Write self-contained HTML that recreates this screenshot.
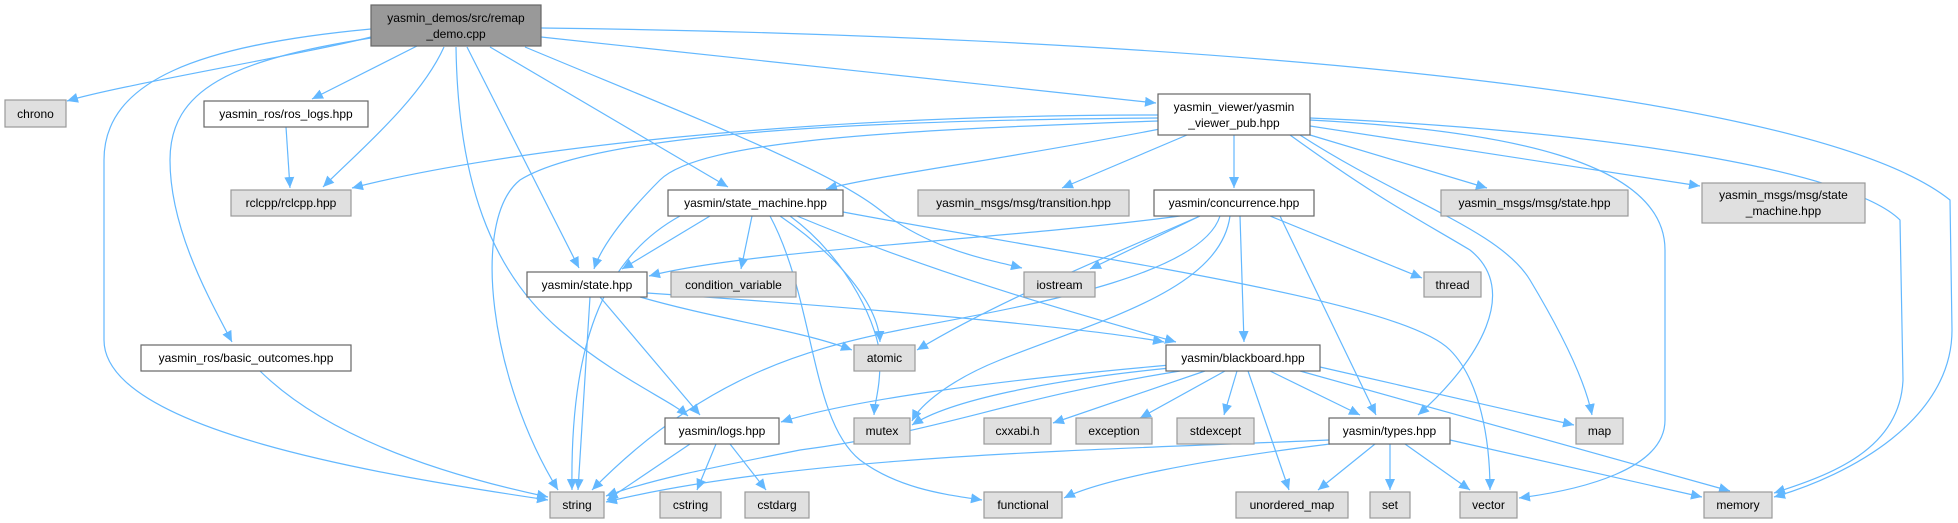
<!DOCTYPE html>
<html><head><meta charset="utf-8"><style>
html,body{margin:0;padding:0;background:#fff}
svg{display:block}
text{font-family:"Liberation Sans",sans-serif;font-size:12px;fill:#000;text-anchor:middle}
.w{fill:#fff;stroke:#666;stroke-width:1.2}
.g{fill:#e0e0e0;stroke:#999;stroke-width:1.2}
.m{fill:#999;stroke:#666;stroke-width:1.2}
path.e{fill:none;stroke:#63b8ff;stroke-width:1.2;marker-end:url(#a)}
</style></head><body>
<svg width="1958" height="523" viewBox="0 0 1958 523" xmlns="http://www.w3.org/2000/svg">
<defs><marker id="a" markerUnits="userSpaceOnUse" markerWidth="12" markerHeight="10" refX="11" refY="5" orient="auto"><path d="M0,0 L11,5 L0,10 z" fill="#63b8ff"/></marker></defs>
<g>
<path class="e" d="M371,37 C300,55 120,85 67,101"/>
<path class="e" d="M417,46 L312,99"/>
<path class="e" d="M444,47 C420,100 360,150 323,187"/>
<path class="e" d="M371,29 C200,45 104,80 104,160 L104,340 C104,430 380,475 548,500"/>
<path class="e" d="M371,38 C230,60 170,90 170,160 C170,230 210,300 232,342"/>
<path class="e" d="M456,47 C458,180 490,270 560,330 C620,380 670,400 688,416"/>
<path class="e" d="M467,47 L579,268"/>
<path class="e" d="M490,47 L728,187"/>
<path class="e" d="M525,47 C700,120 830,170 880,210 C930,250 990,260 1022,268"/>
<path class="e" d="M541,37 L1156,103"/>
<path class="e" d="M541,28 C1100,35 1800,80 1950,200 L1952,330 C1952,420 1850,475 1774,497"/>
<path class="e" d="M1158,115 C800,115 500,150 352,188"/>
<path class="e" d="M1158,118 C900,120 600,130 520,180 C470,220 490,380 558,490"/>
<path class="e" d="M1158,121 C900,130 700,140 660,180 C620,220 600,250 594,269"/>
<path class="e" d="M1160,129 C1000,160 880,175 826,189"/>
<path class="e" d="M1187,135 L1062,188"/>
<path class="e" d="M1234,135 L1234,188"/>
<path class="e" d="M1310,135 L1487,188"/>
<path class="e" d="M1310,126 L1700,186"/>
<path class="e" d="M1290,135 C1380,200 1420,220 1470,250 C1520,290 1480,360 1418,415"/>
<path class="e" d="M1300,135 C1400,200 1500,230 1530,280 C1560,330 1585,380 1592,415"/>
<path class="e" d="M1310,120 C1500,130 1665,160 1665,250 L1665,420 C1665,470 1580,490 1519,498"/>
<path class="e" d="M1310,118 C1600,130 1850,170 1900,220 L1903,380 C1900,450 1830,475 1774,493"/>
<path class="e" d="M710,216 L622,269"/>
<path class="e" d="M752,216 L741,269"/>
<path class="e" d="M680,216 C600,260 570,350 572,490"/>
<path class="e" d="M780,216 C830,250 878,300 880,342"/>
<path class="e" d="M790,216 C850,260 880,330 880,360 C880,390 875,400 874,415"/>
<path class="e" d="M770,216 C815,300 810,420 860,460 C900,490 950,495 982,500"/>
<path class="e" d="M797,216 C950,280 1100,320 1176,342"/>
<path class="e" d="M843,212 C1100,260 1400,300 1450,350 C1480,380 1490,440 1490,490"/>
<path class="e" d="M590,297 L578,490"/>
<path class="e" d="M600,297 L700,415"/>
<path class="e" d="M640,297 C720,320 800,330 852,350"/>
<path class="e" d="M647,293 C900,310 1100,330 1164,342"/>
<path class="e" d="M1180,216 C1000,240 750,250 649,276"/>
<path class="e" d="M1200,216 L1090,269"/>
<path class="e" d="M1270,216 L1422,278"/>
<path class="e" d="M1200,216 C1100,260 1000,300 917,350"/>
<path class="e" d="M1220,216 C1200,280 1000,310 900,330 C800,350 700,380 592,490"/>
<path class="e" d="M1230,216 C1220,290 1100,320 1000,360 C950,380 920,405 912,421"/>
<path class="e" d="M1240,216 L1244,342"/>
<path class="e" d="M1280,216 L1376,415"/>
<path class="e" d="M1170,365 C1000,380 850,400 781,422"/>
<path class="e" d="M1170,368 C1050,380 950,400 912,425"/>
<path class="e" d="M1205,371 L1053,423"/>
<path class="e" d="M1225,371 L1140,418"/>
<path class="e" d="M1237,371 L1224,415"/>
<path class="e" d="M1270,371 L1360,415"/>
<path class="e" d="M1320,367 L1574,425"/>
<path class="e" d="M1300,371 L1730,491"/>
<path class="e" d="M1248,371 L1289,490"/>
<path class="e" d="M1180,371 C1000,400 950,430 800,450 C700,470 650,480 606,496"/>
<path class="e" d="M690,444 L607,500"/>
<path class="e" d="M716,444 L697,490"/>
<path class="e" d="M730,444 L766,490"/>
<path class="e" d="M1329,440 C1100,450 800,455 606,502"/>
<path class="e" d="M1330,444 C1200,460 1100,480 1064,498"/>
<path class="e" d="M1375,444 L1318,490"/>
<path class="e" d="M1390,444 L1390,490"/>
<path class="e" d="M1405,444 L1470,490"/>
<path class="e" d="M1450,440 L1702,497"/>
<path class="e" d="M260,371 C320,430 420,470 548,497"/>
<path class="e" d="M286,127 L290,188"/>
</g>
<rect class="m" x="371" y="5" width="170" height="41"/><text x="456" y="22">yasmin_demos/src/remap</text><text x="456" y="38">_demo.cpp</text>
<rect class="g" x="5" y="100" width="61" height="27"/><text x="35.5" y="118">chrono</text>
<rect class="w" x="204" y="101" width="164" height="26"/><text x="286" y="118">yasmin_ros/ros_logs.hpp</text>
<rect class="g" x="231" y="190" width="120" height="26"/><text x="291" y="207">rclcpp/rclcpp.hpp</text>
<rect class="w" x="141" y="345" width="210" height="26"/><text x="246" y="362">yasmin_ros/basic_outcomes.hpp</text>
<rect class="w" x="1158" y="94" width="152" height="41"/><text x="1234" y="111">yasmin_viewer/yasmin</text><text x="1234" y="127">_viewer_pub.hpp</text>
<rect class="w" x="668" y="190" width="175" height="26"/><text x="755.5" y="207">yasmin/state_machine.hpp</text>
<rect class="g" x="918" y="190" width="211" height="26"/><text x="1023.5" y="207">yasmin_msgs/msg/transition.hpp</text>
<rect class="w" x="1154" y="190" width="160" height="26"/><text x="1234" y="207">yasmin/concurrence.hpp</text>
<rect class="g" x="1441" y="190" width="187" height="26"/><text x="1534.5" y="207">yasmin_msgs/msg/state.hpp</text>
<rect class="g" x="1702" y="183" width="163" height="40"/><text x="1783.5" y="199">yasmin_msgs/msg/state</text><text x="1783.5" y="215">_machine.hpp</text>
<rect class="w" x="527" y="272" width="120" height="25"/><text x="587" y="289">yasmin/state.hpp</text>
<rect class="g" x="671" y="272" width="125" height="25"/><text x="733.5" y="289">condition_variable</text>
<rect class="g" x="1024" y="272" width="71" height="25"/><text x="1059.5" y="289">iostream</text>
<rect class="g" x="1424" y="272" width="57" height="25"/><text x="1452.5" y="289">thread</text>
<rect class="g" x="854" y="345" width="61" height="26"/><text x="884.5" y="362">atomic</text>
<rect class="w" x="1166" y="345" width="154" height="26"/><text x="1243" y="362">yasmin/blackboard.hpp</text>
<rect class="w" x="665" y="418" width="114" height="26"/><text x="722" y="435">yasmin/logs.hpp</text>
<rect class="g" x="854" y="418" width="56" height="26"/><text x="882" y="435">mutex</text>
<rect class="g" x="984" y="418" width="67" height="26"/><text x="1017.5" y="435">cxxabi.h</text>
<rect class="g" x="1076" y="418" width="76" height="26"/><text x="1114" y="435">exception</text>
<rect class="g" x="1177" y="418" width="77" height="26"/><text x="1215.5" y="435">stdexcept</text>
<rect class="w" x="1329" y="418" width="121" height="26"/><text x="1389.5" y="435">yasmin/types.hpp</text>
<rect class="g" x="1576" y="418" width="47" height="26"/><text x="1599.5" y="435">map</text>
<rect class="g" x="550" y="492" width="54" height="26"/><text x="577" y="509">string</text>
<rect class="g" x="660" y="492" width="61" height="26"/><text x="690.5" y="509">cstring</text>
<rect class="g" x="745" y="492" width="64" height="26"/><text x="777" y="509">cstdarg</text>
<rect class="g" x="984" y="492" width="78" height="26"/><text x="1023" y="509">functional</text>
<rect class="g" x="1236" y="492" width="112" height="26"/><text x="1292" y="509">unordered_map</text>
<rect class="g" x="1370" y="492" width="40" height="26"/><text x="1390" y="509">set</text>
<rect class="g" x="1460" y="492" width="57" height="26"/><text x="1488.5" y="509">vector</text>
<rect class="g" x="1704" y="492" width="68" height="26"/><text x="1738" y="509">memory</text>
</svg>
</body></html>
